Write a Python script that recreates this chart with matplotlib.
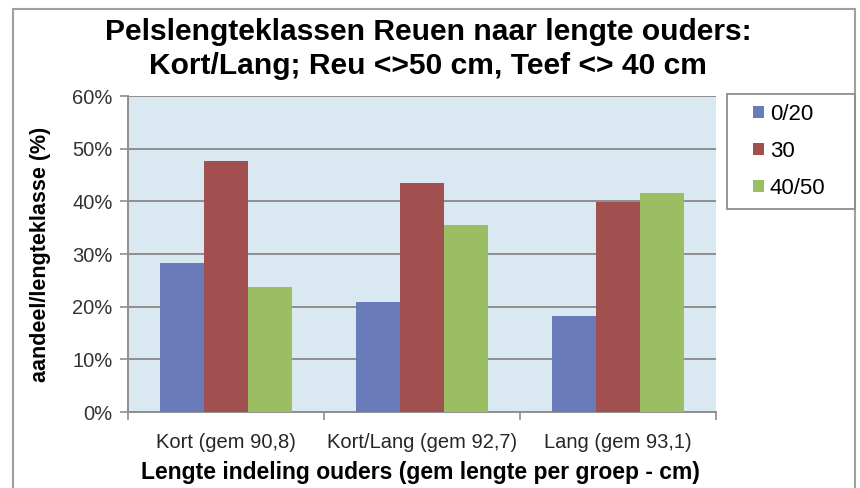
import matplotlib
matplotlib.use("Agg")
import matplotlib.pyplot as plt
from matplotlib.patches import Rectangle, Patch
from matplotlib.ticker import FuncFormatter, MultipleLocator
import numpy as np

plt.rcParams['font.family'] = ['Liberation Sans', 'DejaVu Sans']

categories = ["Kort (gem 90,8)", "Kort/Lang (gem 92,7)", "Lang (gem 93,1)"]
series_names = ["0/20", "30", "40/50"]
values_0_20 = [28.2, 20.8, 18.2]
values_30 = [47.7, 43.5, 39.9]
values_40_50 = [23.8, 35.5, 41.6]
colors = ["#6a7bba", "#a24f4f", "#9bbe62"]

W, H = 860, 488
fig = plt.figure(figsize=(W / 100, H / 100), dpi=100)

# outer chart frame (bottom edge runs off the page)
fig.patches.append(Rectangle((13 / W, -0.05), (855 - 13) / W, (H - 9) / H + 0.05,
                             transform=fig.transFigure, fill=False,
                             edgecolor="#a0a0a0", linewidth=1.5))

ax = fig.add_axes([128 / W, 1 - 412 / H, (716 - 128) / W, (412 - 96) / H])
ax.set_facecolor("#dae8f2")

x = np.arange(len(categories))
bw = 0.223
for i, (vals, c) in enumerate(zip([values_0_20, values_30, values_40_50], colors)):
    ax.bar(x + (i - 1) * bw, vals, width=bw, color=c, zorder=3)

ax.set_xlim(-0.5, len(categories) - 0.5)
ax.set_ylim(0, 60)
ax.yaxis.set_major_locator(MultipleLocator(10))
ax.yaxis.set_major_formatter(FuncFormatter(lambda v, p: f"{v:.0f}%"))
ax.grid(axis="y", color="#8e8e8e", linewidth=1.4, zorder=1)
ax.set_axisbelow(True)

ax.set_xticks(x)
ax.set_xticklabels(categories)
ax.set_xticks(np.arange(len(categories) + 1) - 0.5, minor=True)
ax.tick_params(axis="x", which="major", length=0, pad=15, labelsize=14.5, labelcolor="#262626")
ax.tick_params(axis="x", which="minor", length=6, color="#8e8e8e", width=1.2)
ax.tick_params(axis="y", length=6, color="#8e8e8e", width=1.2, labelsize=14.5,
               labelcolor="#333333", pad=5)

for s in ["top", "right"]:
    ax.spines[s].set_visible(False)
for s in ["left", "bottom"]:
    ax.spines[s].set_color("#8e8e8e")
    ax.spines[s].set_linewidth(1.4)

fig.text(428 / W, 1 - 32 / H, "Pelslengteklassen Reuen naar lengte ouders:",
         ha="center", va="center", fontsize=21.6, fontweight="bold")
fig.text(428 / W, 1 - 66 / H, "Kort/Lang; Reu <>50 cm, Teef <> 40 cm",
         ha="center", va="center", fontsize=21.6, fontweight="bold")

fig.text(41 / W, 1 - 254 / H, "aandeel/lengteklasse (%)", rotation=90,
         ha="center", va="center", fontsize=15.5, fontweight="bold")
fig.text(420 / W, 1 - 472 / H, "Lengte indeling ouders (gem lengte per groep - cm)",
         ha="center", va="center", fontsize=16.5, fontweight="bold")

# legend box
fig.patches.append(Rectangle((727 / W, 1 - 209 / H), (855 - 727) / W, (209 - 94) / H,
                             transform=fig.transFigure, fill=False,
                             edgecolor="#8e8e8e", linewidth=1.3))
handles = [Patch(facecolor=c, edgecolor="none") for c in colors]
fig.legend(handles, series_names, loc="upper left",
           bbox_to_anchor=(753 / W, 1 - 104 / H), frameon=False,
           fontsize=16, handlelength=0.5, handleheight=0.5, handletextpad=0.25,
           labelspacing=0.72, borderpad=0, borderaxespad=0)

fig.savefig("out.png", dpi=100)
